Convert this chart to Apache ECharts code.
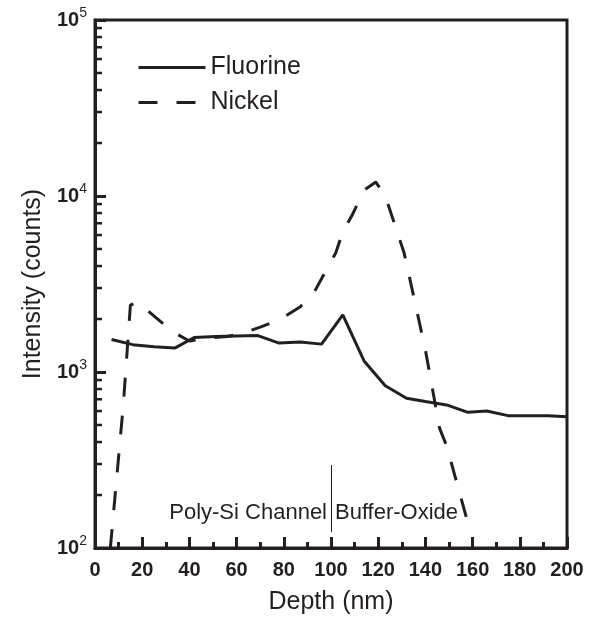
<!DOCTYPE html>
<html>
<head>
<meta charset="utf-8">
<script src="https://cdn.jsdelivr.net/npm/echarts@6/dist/echarts.min.js"></script>
<style>
  html, body { margin: 0; padding: 0; background: #fff; }
  #chart { width: 596px; height: 622px; }
</style>
</head>
<body>
<div id="chart"></div>
<script>
var ink = '#231f20';
var font = 'Liberation Sans, Arial, sans-serif';

// SIMS depth profile
var depthF   = [7, 16, 25, 34, 42, 51, 60, 69, 78, 87, 96, 105, 114, 123, 132, 140, 149, 158, 166, 175, 184, 192, 200];
var fluorine = [1530, 1430, 1390, 1370, 1570, 1590, 1600, 1610, 1460, 1480, 1440, 2110, 1155, 835, 710, 680, 650, 590, 600, 565, 565, 565, 557];

var depthNi = [6.5, 12, 15, 18, 33, 40, 48, 56, 62, 70, 78, 87, 93, 98, 102, 105, 109, 114, 119, 123, 131, 140, 146, 149, 158];
var nickel  = [100, 650, 2400, 2500, 1690, 1500, 1560, 1590, 1650, 1800, 1975, 2350, 2860, 3800, 4740, 6270, 7800, 10800, 12000, 10000, 4740, 1334, 480, 380, 139];

var yTicks = [100, 1000, 10000, 100000];
var boundary = 100;
var regionLeft = 'Poly-Si Channel';
var regionRight = 'Buffer-Oxide';

function pairs (xs, ys) {
  return xs.map(function (x, i) { return [x, ys[i]]; });
}

var chart = echarts.init(document.getElementById('chart'));

var option = {
  animation: false,
  grid: {
    left: 95, right: 29, top: 20, bottom: 74,
    show: true, borderColor: ink, borderWidth: 3
  },
  legend: {
    orient: 'vertical',
    left: 132,
    top: 50,
    itemWidth: 67,
    itemHeight: 14,
    itemGap: 10,
    itemStyle: { opacity: 0 },
    lineStyle: { width: 3 },
    textStyle: { fontSize: 25, color: ink, fontFamily: font },
    data: ['Fluorine', 'Nickel']
  },
  xAxis: {
    type: 'value',
    min: 0,
    max: 200,
    interval: 20,
    name: 'Depth (nm)',
    nameLocation: 'middle',
    nameGap: 42,
    nameTextStyle: { fontSize: 25, color: ink, fontFamily: font },
    axisLine: { lineStyle: { color: ink, width: 3 } },
    axisTick: { inside: true, length: 11, lineStyle: { color: ink, width: 3 } },
    minorTick: { show: true, splitNumber: 2, length: 6, lineStyle: { color: ink, width: 3 } },
    axisLabel: { margin: 12, color: ink, fontSize: 20, fontWeight: 'bold', fontFamily: font },
    splitLine: { show: false },
    minorSplitLine: { show: false }
  },
  yAxis: {
    type: 'log',
    logBase: 10,
    min: yTicks[0],
    max: yTicks[yTicks.length - 1],
    name: 'Intensity (counts)',
    nameLocation: 'middle',
    nameGap: 48,
    nameTextStyle: { fontSize: 25, color: ink, fontFamily: font },
    axisLine: { lineStyle: { color: ink, width: 3 } },
    axisTick: { inside: true, length: 11, lineStyle: { color: ink, width: 3 } },
    splitLine: { show: false },
    axisLabel: {
      margin: 8,
      formatter: function (v) {
        return '{b|10}{s|' + Math.round(Math.log10(v)) + '}';
      },
      rich: {
        b: { fontSize: 20, fontWeight: 'bold', color: ink, fontFamily: font, lineHeight: 28 },
        s: { fontSize: 14, color: ink, fontFamily: font, verticalAlign: 'top', lineHeight: 14 }
      }
    }
  },
  series: [
    {
      name: 'Fluorine',
      type: 'line',
      data: pairs(depthF, fluorine),
      symbol: 'none',
      lineStyle: { color: ink, width: 3 },
      itemStyle: { color: ink },
      markLine: {
        silent: true,
        symbol: ['none', 'none'],
        label: { show: false },
        lineStyle: { color: ink, width: 1, type: 'solid' },
        data: [[{ coord: [boundary, 296] }, { coord: [boundary, 123] }]]
      }
    },
    {
      name: 'Nickel',
      type: 'line',
      data: pairs(depthNi, nickel),
      symbol: 'none',
      clip: true,
      lineStyle: { color: ink, width: 3, type: [19, 19] },
      itemStyle: { color: ink }
    }
  ]
};

chart.setOption(option);

// log minor ticks at 2..9 of each decade, placed through the axis scale
var graphics = [];
var x0 = chart.convertToPixel({ xAxisIndex: 0 }, 0);
for (var d = 0; d < yTicks.length - 1; d++) {
  for (var k = 2; k <= 9; k++) {
    var py = chart.convertToPixel({ yAxisIndex: 0 }, yTicks[d] * k);
    graphics.push({
      type: 'line',
      shape: { x1: x0, y1: py, x2: x0 + 7, y2: py },
      style: { stroke: ink, lineWidth: 2.5 },
      silent: true
    });
  }
}
var pt = chart.convertToPixel({ xAxisIndex: 0, yAxisIndex: 0 }, [boundary, 158]);
graphics.push({
  type: 'text', x: pt[0] - 4, y: pt[1],
  style: { text: regionLeft, fontSize: 22, fontFamily: font, fill: ink, align: 'right', verticalAlign: 'middle' },
  silent: true
});
graphics.push({
  type: 'text', x: pt[0] + 4, y: pt[1],
  style: { text: regionRight, fontSize: 22, fontFamily: font, fill: ink, align: 'left', verticalAlign: 'middle' },
  silent: true
});
chart.setOption({ graphic: graphics });
</script>
</body>
</html>
